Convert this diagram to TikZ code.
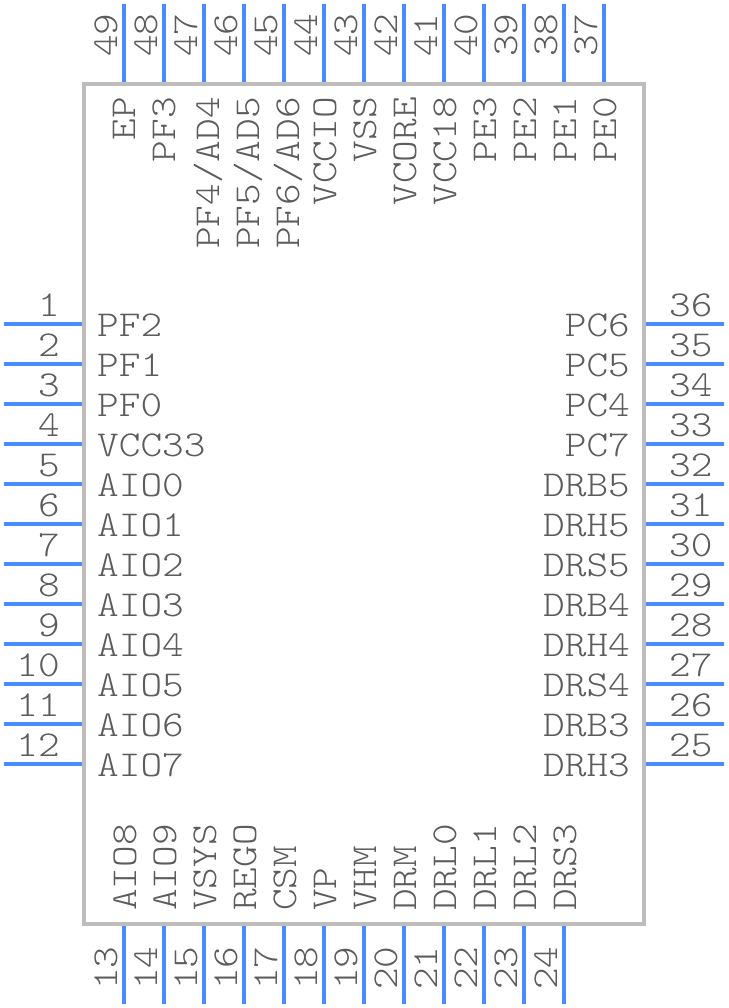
\documentclass[tikz,border=0pt]{standalone}
\usepackage{fontspec}
\setmonofont[FakeStretch=1.13]{Latin Modern Mono Light}
\usetikzlibrary{
    positioning
}
\definecolor{pinblue}{HTML}{4A8CFF}
\definecolor{bodygray}{HTML}{BDBDBD}
\definecolor{labelgray}{HTML}{5C5C5C}
\tikzset{
  pinline/.style={draw=pinblue, line width=4pt},
  pintext/.style={
    text=labelgray,
    inner sep=0pt,
    font=\ttfamily\fontsize{36.5}{38}\selectfont
  }
}

\begin{document}
\begin{tikzpicture}[x=1pt, y=-1pt]

  \useasboundingbox (0,0) rectangle (728,1008);

  \node[
    draw=bodygray,
    line width=4pt,
    minimum width=560pt,
    minimum height=840pt,
    inner sep=0pt
  ] (chip) at (364,504) {};

  % left side {{{
  \foreach \pinname [count=\i from 0, evaluate=\i as \pinnum using int(\i+1)] in
    {PF2,PF1,PF0,VCC33,AIO0,AIO1,AIO2,AIO3,AIO4,AIO5,AIO6,AIO7} {
    \coordinate (pin\pinnum) at (4,324+40*\i);
    \draw[pinline] (pin\pinnum) -- (pin\pinnum -| chip.west);
    \node[pintext, anchor=base east] (num\pinnum) at (60,316+40*\i) {\pinnum};
    \node[pintext, anchor=base west] (name\pinnum) at (97,336+40*\i) {\pinname};
  }
  % }}}

  % bottom side {{{
  \foreach \pinname [count=\i from 0, evaluate=\i as \pinnum using int(\i+13)] in
    {AIO8,AIO9,VSYS,REGO,CSM,VP,VHM,DRM,DRL0,DRL1,DRL2,DRS3} {
    \coordinate (pin\pinnum) at (124+40*\i,1004);
    \draw[pinline] (pin\pinnum) -- (pin\pinnum |- chip.south);
    \node[pintext, rotate=90, anchor=base west] (num\pinnum) at (117+40*\i,990) {\pinnum};
    \node[pintext, rotate=90, anchor=base west] (name\pinnum) at (136+40*\i,911) {\pinname};
  }
  % }}}

  % right side {{{
  \foreach \pinname [count=\i from 0, evaluate=\i as \pinnum using int(36-\i)] in
    {PC6,PC5,PC4,PC7,DRB5,DRH5,DRS5,DRB4,DRH4,DRS4,DRB3,DRH3} {
    \coordinate (pin\pinnum) at (724,324+40*\i);
    \draw[pinline] (pin\pinnum) -- (pin\pinnum -| chip.east);
    \node[pintext, anchor=base west] (num\pinnum) at (669,316+40*\i) {\pinnum};
    \node[pintext, anchor=base east] (name\pinnum) at (630,336+40*\i) {\pinname};
  }
  % }}}

  % top side {{{
  \foreach \pinname/\nudge [count=\i from 0, evaluate=\i as \pinnum using int(49-\i)] in
    {EP/0,PF3/0,PF4\slash AD4/4,PF5\slash AD5/4,PF6\slash AD6/4,VCCIO/1,VSS/1,VCORE/1,VCC18/1,PE3/1,PE2/1,PE1/1,PE0/1} {
    \coordinate (pin\pinnum) at (124+40*\i,4);
    \draw[pinline] (pin\pinnum) -- (pin\pinnum |- chip.north);
    \node[pintext, rotate=90, anchor=base west] (num\pinnum) at (117+40*\i,57) {\pinnum};
    \node[pintext, rotate=90, anchor=base east] (name\pinnum) at (135+\nudge+40*\i,97) {\pinname};
  }
  % }}}

\end{tikzpicture}
\end{document}
